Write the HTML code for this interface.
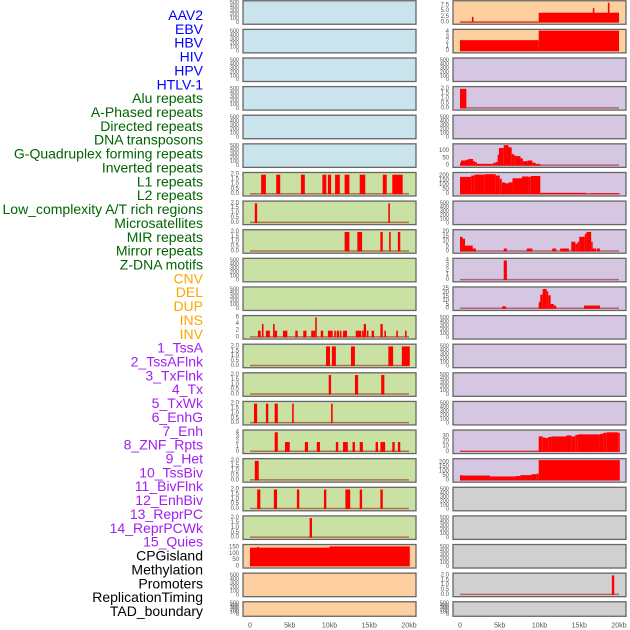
<!DOCTYPE html>
<html><head><meta charset="utf-8">
<style>
html,body{margin:0;padding:0;background:#fff;}
svg{display:block;font-family:"Liberation Sans",sans-serif;}
</style></head>
<body>
<svg id="chart" width="630" height="630" viewBox="0 0 630 630" xmlns="http://www.w3.org/2000/svg">
<g id="labels"></g>
<g id="panels"></g>
<g id="xaxes"></g>
</svg>
<script>
// ---- track labels ----
const trackLabels = ["AAV2","EBV","HBV","HIV","HPV","HTLV-1","Alu repeats","A-Phased repeats","Directed repeats","DNA transposons","G-Quadruplex forming repeats","Inverted repeats","L1 repeats","L2 repeats","Low_complexity A/T rich regions","Microsatellites","MIR repeats","Mirror repeats","Z-DNA motifs","CNV","DEL","DUP","INS","INV","1_TssA","2_TssAFlnk","3_TxFlnk","4_Tx","5_TxWk","6_EnhG","7_Enh","8_ZNF_Rpts","9_Het","10_TssBiv","11_BivFlnk","12_EnhBiv","13_ReprPC","14_ReprPCWk","15_Quies","CPGisland","Methylation","Promoters","ReplicationTiming","TAD_boundary"];
const labelGroups = [6,13,5,15,5];
const groupColors = ["#0000ff","#006400","#ffa500","#a020f0","#000000"];
const xTickValues = [0,5,10,15,20];
const xTickLabels = ["0","5kb","10kb","15kb","20kb"];

// ---- panel data: [startKb, endKb, value] ----
const emptyTicks = ["0","100","200","300","400","500"];
const binTicks = ["0.0","0.5","1.0","1.5","2.0"];
const L6 = [[1.4,2.0,2],[3.3,3.8,2],[6.4,6.9,2],[9.1,9.6,2],[9.8,10.2,2],[10.7,11.3,2],[11.9,12.5,2],[13.8,14.5,2],[16.7,17.2,2],[17.9,19.2,2]];
const L7 = [[0.6,0.9,2],[17.4,17.6,2]];
const L8 = [[11.9,12.5,2],[13.5,14.1,2],[16.4,16.7,2],[17.5,17.7,2],[18.6,18.9,2]];
const L11Ticks = ["0","2","4","6"];
const L11 = [[1.0,1.35,2],[1.5,1.7,4],[2.0,2.5,2],[2.9,3.1,4],[3.1,3.4,2],[4.15,4.7,2],[5.7,6.0,2],[6.7,7.1,2],[7.7,8.2,2],[8.2,8.4,6],[8.9,9.2,2],[9.8,10.4,2],[10.6,10.8,2],[10.9,11.2,2],[11.3,11.5,2],[11.7,12.2,2],[13.3,14.0,2],[14.1,14.3,2],[14.3,14.6,4],[14.7,14.9,2],[15.3,15.6,2],[16.4,16.7,4],[16.9,17.1,2],[18.4,18.6,2],[19.5,19.7,2]];
const L12 = [[9.56,10.06,2],[10.3,10.8,2],[12.7,13.2,2],[17.4,18.0,2],[19.1,20.1,2]];
const L13 = [[9.9,10.2,2],[13.2,13.6,2],[16.5,16.9,2]];
const L14 = [[0.5,0.9,2],[2.0,2.3,2],[3.1,3.5,2],[5.3,5.5,2],[10.2,10.4,2]];
const L15Ticks = ["0","1","2","3","4"];
const L15 = [[3.1,3.5,4],[4.4,5.0,2],[6.9,7.3,2],[8.4,8.8,2],[10.8,11.1,2],[11.7,12.3,2],[12.9,13.2,2],[13.8,14.2,2],[15.8,16.1,2],[16.4,17.0,2],[17.9,18.2,2],[18.6,18.9,2]];
const L16 = [[0.6,1.1,2]];
const L17 = [[0.9,1.3,2],[3.0,3.4,2],[5.9,6.2,2],[9.3,9.6,2],[12.0,12.6,2],[13.8,14.1,2],[16.4,16.7,2]];
const L18 = [[7.5,7.8,2]];
const L19Ticks = ["0","50","100","150"];
const L19 = [[0,10,150],[0.9,1.1,156],[10,20.1,160]];
const R0Ticks = ["0.0","2.5","5.0","7.5"];
const R0 = [[0,9.9,0.3],[1.5,1.7,2.5],[9.9,20,4.3],[16.7,16.9,6.3],[18.6,18.8,8.7]];
const R1Ticks = ["0","1","2","3","4"];
const R1 = [[0,9.9,2.3],[9.9,20,4.3]];
const R3 = [[0,0.8,2]];
const R5Ticks = ["0","50","100"];
const R5 = [[0,0.13,20],[0.13,0.75,35],[0.75,1.05,40],[1.05,1.64,45],[1.64,1.9,30],[1.9,2.14,22],[2.14,4.2,12],[4.2,4.5,20],[4.5,4.74,25],[4.74,4.9,75],[4.9,5.5,120],[5.5,6.1,140],[6.1,6.5,125],[6.5,6.75,80],[6.75,7.0,70],[7.0,7.6,65],[7.6,7.9,50],[7.9,8.5,30],[8.5,9.1,35],[9.1,9.5,20],[9.5,10.1,12]];
const R6Ticks = ["0","50","100","150","200"];
const R6 = [[0,1.4,190],[1.4,1.8,205],[1.8,3.1,215],[3.1,4.5,220],[4.5,5.0,205],[5.0,5.25,170],[5.25,5.66,130],[5.66,6.1,120],[6.1,6.6,130],[6.6,7.8,175],[7.8,8.6,195],[8.6,8.9,190],[8.9,10.1,200],[10.1,15.9,15],[15.9,16.4,5],[16.4,20.1,10]];
const R8Ticks = ["0","5","10","15","20"];
const R8 = [[0,0.33,15],[0.33,0.63,13],[0.63,1.6,6],[1.6,2.0,3],[5.5,5.9,3],[8.4,9.1,3],[11.6,12.1,3],[12.6,13.7,3],[14.0,14.5,10],[14.5,14.8,8],[14.8,15.0,10],[15.0,15.7,15],[15.7,15.9,18],[15.9,16.5,20],[16.5,16.6,10],[16.6,17.1,3],[17.2,17.6,3]];
const R9Ticks = ["0","1","2","3","4"];
const R9 = [[5.5,5.9,4]];
const R10Ticks = ["0","5","10","15","20","25"];
const R10 = [[5.3,5.8,3],[9.9,10.0,8],[10.0,10.1,9],[10.1,10.4,18],[10.4,10.9,25],[10.9,11.1,22],[11.1,11.4,17],[11.4,11.8,6],[11.8,12.1,4],[15.6,17.6,4]];
const R15Ticks = ["0","10","20","30"];
const R15 = [[0,9.9,1],[9.9,10.4,30],[10.4,10.7,28],[10.7,11.1,27],[11.1,11.5,29],[11.5,13.4,30],[13.4,14.0,32],[14.0,14.5,30],[14.5,14.8,33],[14.8,17.6,34],[17.6,18.0,35],[18.0,18.4,37],[18.4,19.9,38],[19.9,20.1,37]];
const R16Ticks = ["0","50","100","150","200"];
const R16 = [[0,0.25,60],[0.25,3.8,55],[3.8,7.0,45],[7.0,7.6,50],[7.6,9.0,60],[9.0,9.6,70],[9.6,9.9,75],[9.9,20.1,230]];
const R20 = [[19.1,19.4,2]];

const BLUE="#c9e4ec", GREEN="#c9e1a3", PEACH="#ffd09f", PURPLE="#d5c6e2", GREY="#d0d0d0";
// panels: [col,row,color,ticks,tickMax,ymax,spans]
const panels = [
 ["L",0,BLUE,emptyTicks,500,520,null],["L",1,BLUE,emptyTicks,500,520,null],["L",2,BLUE,emptyTicks,500,520,null],
 ["L",3,BLUE,emptyTicks,500,520,null],["L",4,BLUE,emptyTicks,500,520,null],["L",5,BLUE,emptyTicks,500,520,null],
 ["L",6,GREEN,binTicks,2,2.1,L6],["L",7,GREEN,binTicks,2,2.1,L7],["L",8,GREEN,binTicks,2,2.1,L8],
 ["L",9,GREEN,emptyTicks,500,520,null],["L",10,GREEN,emptyTicks,500,520,null],["L",11,GREEN,L11Ticks,6,6.2,L11],
 ["L",12,GREEN,binTicks,2,2.1,L12],["L",13,GREEN,binTicks,2,2.1,L13],["L",14,GREEN,binTicks,2,2.1,L14],
 ["L",15,GREEN,L15Ticks,4,4.2,L15],["L",16,GREEN,binTicks,2,2.1,L16],["L",17,GREEN,binTicks,2,2.1,L17],
 ["L",18,GREEN,binTicks,2,2.1,L18],["L",19,PEACH,L19Ticks,150,165,L19],["L",20,PEACH,emptyTicks,500,520,null],
 ["L",21,PEACH,emptyTicks,500,520,null],
 ["R",0,PEACH,R0Ticks,7.5,9,R0],["R",1,PEACH,R1Ticks,4,4.3,R1],["R",2,PURPLE,emptyTicks,500,520,null],
 ["R",3,PURPLE,binTicks,2,2.1,R3],["R",4,PURPLE,emptyTicks,500,520,null],["R",5,PURPLE,R5Ticks,100,140,R5],
 ["R",6,PURPLE,R6Ticks,200,225,R6],["R",7,PURPLE,emptyTicks,500,520,null],["R",8,PURPLE,R8Ticks,20,21,R8],
 ["R",9,PURPLE,R9Ticks,4,4.2,R9],["R",10,PURPLE,R10Ticks,25,26,R10],["R",11,PURPLE,emptyTicks,500,520,null],
 ["R",12,PURPLE,emptyTicks,500,520,null],["R",13,PURPLE,emptyTicks,500,520,null],["R",14,PURPLE,emptyTicks,500,520,null],
 ["R",15,PURPLE,R15Ticks,30,40,R15],["R",16,PURPLE,R16Ticks,200,232,R16],["R",17,GREY,emptyTicks,500,520,null],
 ["R",18,GREY,emptyTicks,500,520,null],["R",19,GREY,emptyTicks,500,520,null],["R",20,GREY,binTicks,2,2.1,R20],
 ["R",21,GREY,emptyTicks,500,520,null]
];

const NS="http://www.w3.org/2000/svg";
const PANEL_X={L:243,R:453}, ZERO_X={L:250,R:460}, PX_PER_KB=7.95, PANEL_W=173;
function xScale(col,kb){return ZERO_X[col]+kb*PX_PER_KB;}
function rowTop(r){return r*28.62;}
function rowH(r){return r===21?16:25;}
function mk(tag,attrs,parent){const e=document.createElementNS(NS,tag);for(const k in attrs)e.setAttribute(k,attrs[k]);parent.appendChild(e);return e;}

// labels
const lg=document.getElementById('labels');
let gi=0,cnt=0;
trackLabels.forEach((t,i)=>{
  while(cnt>=labelGroups[gi]){cnt=0;gi++;}
  cnt++;
  const e=mk('text',{x:203,y:15+i*13.86,'text-anchor':'end','dominant-baseline':'central','font-size':'14',fill:groupColors[gi]},lg);
  
  
  e.textContent=t;
});

// panels
const pg=document.getElementById('panels');
panels.forEach(p=>{
  const [col,row,color,ticks,tickMax,ymax,spans]=p;
  const t=rowTop(row), h=rowH(row);
  const g=mk('g',{},pg);
  
  
  const r=mk('rect',{x:PANEL_X[col],y:t+0.75,width:PANEL_W,height:h-1.5,fill:color,stroke:'#666','stroke-width':1.3},g);
  
  
  const base=t+h-2.5, top=t+2;
  const yS=v=>base-v/ymax*(base-top);
  const empty=!spans;
  ticks.forEach((lab,i)=>{
    const v=i/(ticks.length-1)*tickMax;
    let y=yS(v);
    if(empty){y=t+h-2-i*(h-4)/(ticks.length-1)*0.95;}
    const tx=mk('text',{x:PANEL_X[col]-4,y:y,'text-anchor':'end','dominant-baseline':'central','font-size':empty?5.5:6,fill:'#555'},g);
    
    
    tx.textContent=lab;
  });
  if(spans){
    const bl=mk('line',{x1:xScale(col,0),x2:xScale(col,20),y1:base-0.5,y2:base-0.5,stroke:'rgba(150,20,20,0.55)','stroke-width':1.5},g);
    
    
    spans.forEach(s=>{
      const x0=xScale(col,s[0]),x1=xScale(col,s[1]);
      const y=yS(s[2]);
      const b=mk('rect',{x:x0,y:y,width:Math.max(1.5,x1-x0),height:base-y,fill:'#ff0000'},g);
      
      
    });
  }
});

// x axes
const xg=document.getElementById('xaxes');
["L","R"].forEach(col=>{
  xTickValues.forEach((v,i)=>{
    const tx=mk('text',{x:xScale(col,v),y:626,'text-anchor':'middle','dominant-baseline':'central','font-size':7,fill:'#555'},xg);
    
    
    tx.textContent=xTickLabels[i];
  });
});
</script>
</body></html>
